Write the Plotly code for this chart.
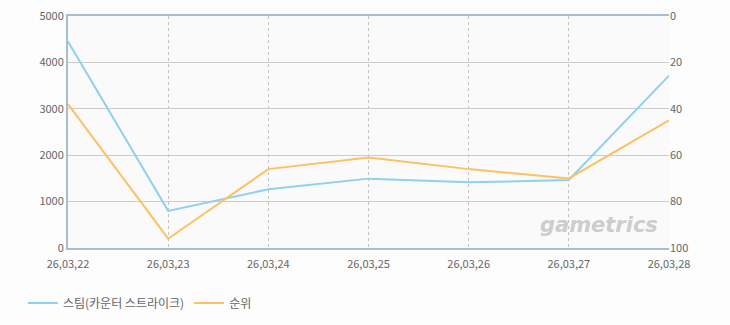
import plotly.graph_objects as go

dates = ["26,03,22", "26,03,23", "26,03,24", "26,03,25", "26,03,26", "26,03,27", "26,03,28"]
steam = [4450, 800, 1265, 1495, 1415, 1465, 3715]
rank = [38, 96, 66, 61, 66, 70, 45]
steam_name = "스팀(카운터 스트라이크)"
rank_name = "순위"
left_ticks = [0, 1000, 2000, 3000, 4000, 5000]
right_ticks = [0, 20, 40, 60, 80, 100]

FONT = "Noto Sans CJK KR"
fig = go.Figure()
fig.add_trace(go.Scatter(x=dates, y=steam, name=steam_name, mode="lines",
                         line=dict(color="#8fd0f0", width=2), yaxis="y"))
fig.add_trace(go.Scatter(x=dates, y=rank, name=rank_name, mode="lines",
                         line=dict(color="#fdc062", width=2), yaxis="y2"))

fig.update_layout(
    width=730, height=325,
    margin=dict(l=68, r=61, t=16, b=77, autoexpand=False),
    paper_bgcolor="#fdfdfd", plot_bgcolor="#fafafa",
    font=dict(family=FONT, size=11, color="#666666"),
    showlegend=True,
    legend=dict(orientation="h", x=-0.075, xanchor="left", y=-0.175, yanchor="top",
                font=dict(size=12, color="#666666"), bgcolor="rgba(0,0,0,0)",
                itemwidth=30),
    xaxis=dict(type="category", range=[0, 6], showgrid=True, gridcolor="#c4c4c4",
               griddash="3px,3px", gridwidth=1, showline=True, linecolor="#a8bcd2",
               linewidth=2, mirror=True, ticks="outside", ticklen=5,
               tickcolor="rgba(0,0,0,0)", tickfont=dict(size=11, color="#666666"),
               zeroline=False, automargin=False),
    yaxis=dict(range=[0, 5000], tickvals=left_ticks, showgrid=True, gridcolor="#cccccc",
               gridwidth=1, showline=True, linecolor="#a8bcd2", linewidth=2,
               ticks="", zeroline=False, tickfont=dict(size=11, color="#666666"),
               automargin=False),
    yaxis2=dict(range=[100, 0], tickvals=right_ticks, overlaying="y", side="right",
                showgrid=False, showline=False, ticks="", zeroline=False,
                tickfont=dict(size=11, color="#666666"), automargin=False),
)
fig.add_annotation(text="<b><i>gametrics</i></b>", xref="paper", yref="paper",
                   x=0.985, y=0.04, xanchor="right", yanchor="bottom", showarrow=False,
                   font=dict(family="DejaVu Sans", size=21, color="#cdcdcd"))
fig.write_html("out.html")
